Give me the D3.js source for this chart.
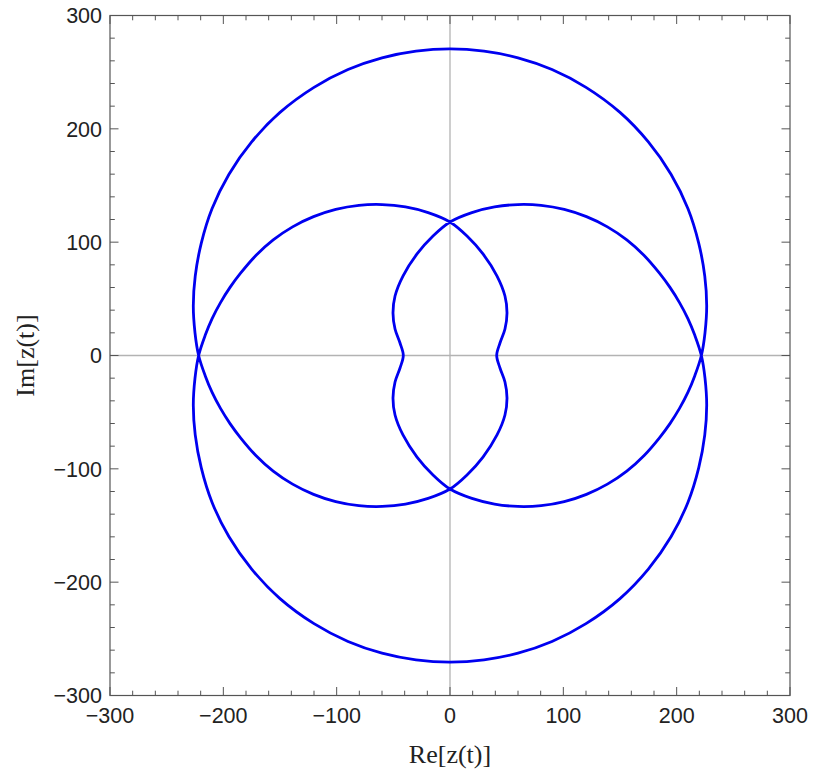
<!DOCTYPE html>
<html>
<head>
<meta charset="utf-8">
<script src="https://cdn.jsdelivr.net/npm/d3@7"></script>
<style>
  body { margin: 0; background: #fff; }
</style>
</head>
<body>
<div id="d3-container"></div>
<script>
/**
 * CONSTANTS AND GLOBALS
 * */
const width = 817,
  height = 770,
  margin = { top: 15.5, bottom: 74.5, left: 110, right: 27 };

// domain of both axes
const domainRe = [-300, 300];
const domainIm = [-300, 300];

// tick values
const majorTicks = [-300, -200, -100, 0, 100, 200, 300];
const minorTicks = d3.range(-300, 301, 20).filter(d => d % 100 !== 0);

// points, in order along the curve [Re, Im]
const curvePoints = [
  // outer arc, upper right
  [0, 270.5], [30, 268.5], [60, 262.6], [90, 252.3], [120, 236.6], [150, 214.5],
  [175, 188.5], [195, 160], [210, 129.5], [219.5, 99], [224.8, 70], [226.5, 44],
  [225, 20], [221.8, 0],
  // lobe, lower right
  [216.1, -17.6], [209.9, -32.6], [202.5, -46.7], [194.1, -60.1], [184.8, -72.6], [171.3, -88.2],
  [156, -102], [138.9, -113.5], [120.4, -122.5], [100.8, -128.9], [80.4, -132.5], [59.8, -133.2],
  [39.3, -131.1], [19.3, -126.1], [0, -117.8],
  // inner, left side
  [-15, -105.4], [-29.1, -89.6], [-41.5, -70.1], [-48.5, -52.5], [-50.3, -37.5], [-48.5, -23.4],
  [-44.1, -11], [-41.2, 0],
  [-44.1, 11], [-48.5, 23.4], [-50.3, 37.5], [-48.5, 52.5], [-41.5, 70.1], [-29.1, 89.6],
  [-15, 105.4], [0, 117.8],
  // lobe, upper right
  [19.3, 126.1], [39.3, 131.1], [59.8, 133.2], [80.4, 132.5], [100.8, 128.9], [120.4, 122.5],
  [138.9, 113.5], [156, 102], [171.3, 88.2], [184.8, 72.6], [194.1, 60.1], [202.5, 46.7],
  [209.9, 32.6], [216.1, 17.6], [221.8, 0],
  // outer arc, lower right
  [225, -20], [226.5, -44], [224.8, -70], [219.5, -99], [210, -129.5], [195, -160],
  [175, -188.5], [150, -214.5], [120, -236.6], [90, -252.3], [60, -262.6], [30, -268.5],
  [0, -270.5],
  // outer arc, lower left
  [-30, -268.5], [-60, -262.6], [-90, -252.3], [-120, -236.6], [-150, -214.5],
  [-175, -188.5], [-195, -160], [-210, -129.5], [-219.5, -99], [-224.8, -70], [-226.5, -44],
  [-225, -20], [-221.8, 0],
  // lobe, upper left
  [-216.1, 17.6], [-209.9, 32.6], [-202.5, 46.7], [-194.1, 60.1], [-184.8, 72.6], [-171.3, 88.2],
  [-156, 102], [-138.9, 113.5], [-120.4, 122.5], [-100.8, 128.9], [-80.4, 132.5], [-59.8, 133.2],
  [-39.3, 131.1], [-19.3, 126.1], [0, 117.8],
  // inner, right side
  [15, 105.4], [29.1, 89.6], [41.5, 70.1], [48.5, 52.5], [50.3, 37.5], [48.5, 23.4],
  [44.1, 11], [41.2, 0],
  [44.1, -11], [48.5, -23.4], [50.3, -37.5], [48.5, -52.5], [41.5, -70.1], [29.1, -89.6],
  [15, -105.4], [0, -117.8],
  // lobe, lower left
  [-19.3, -126.1], [-39.3, -131.1], [-59.8, -133.2], [-80.4, -132.5], [-100.8, -128.9],
  [-120.4, -122.5], [-138.9, -113.5], [-156, -102], [-171.3, -88.2], [-184.8, -72.6],
  [-194.1, -60.1], [-202.5, -46.7], [-209.9, -32.6], [-216.1, -17.6], [-221.8, 0],
  // outer arc, upper left
  [-225, 20], [-226.5, 44], [-224.8, 70], [-219.5, 99], [-210, 129.5], [-195, 160],
  [-175, 188.5], [-150, 214.5], [-120, 236.6], [-90, 252.3], [-60, 262.6], [-30, 268.5]
];

const frameColor = "#555";
const labelColor = "#222";

/**
 * SCALES
 * */
const x = d3.scaleLinear().domain(domainRe).range([margin.left, width - margin.right]);
const y = d3.scaleLinear().domain(domainIm).range([height - margin.bottom, margin.top]);
const fmt = d3.format("d"); // uses the real minus sign

const svg = d3.select("#d3-container")
  .append("svg")
  .attr("width", width)
  .attr("height", height);

// zero lines
svg.append("line")
  .attr("x1", x(0)).attr("x2", x(0))
  .attr("y1", y(300)).attr("y2", y(-300))
  .attr("stroke", "#b3b3b3").attr("stroke-width", 1.3);
svg.append("line")
  .attr("x1", x(-300)).attr("x2", x(300))
  .attr("y1", y(0)).attr("y2", y(0))
  .attr("stroke", "#b3b3b3").attr("stroke-width", 1.3);

// the curve
const line = d3.line()
  .x(d => x(d[0]))
  .y(d => y(d[1]))
  .curve(d3.curveCatmullRomClosed.alpha(0.5));

svg.append("path")
  .datum(curvePoints)
  .attr("d", line)
  .attr("fill", "none")
  .attr("stroke", "#0000f0")
  .attr("stroke-width", 2.8)
  .attr("stroke-linejoin", "round");

// frame + inward ticks on all four sides
const x0 = x(-300), x1 = x(300), y0 = y(-300), y1 = y(300);
const ticks = svg.append("g").attr("stroke", frameColor).attr("stroke-width", 1);
const allTicks = majorTicks.map(v => ({ v, len: 8.5 })).concat(minorTicks.map(v => ({ v, len: 4.8 })));

allTicks.forEach(t => {
  // bottom + top
  ticks.append("line").attr("x1", x(t.v)).attr("x2", x(t.v)).attr("y1", y0).attr("y2", y0 - t.len);
  ticks.append("line").attr("x1", x(t.v)).attr("x2", x(t.v)).attr("y1", y1).attr("y2", y1 + t.len);
  // left + right
  ticks.append("line").attr("x1", x0).attr("x2", x0 + t.len).attr("y1", y(t.v)).attr("y2", y(t.v));
  ticks.append("line").attr("x1", x1).attr("x2", x1 - t.len).attr("y1", y(t.v)).attr("y2", y(t.v));
});

svg.append("rect")
  .attr("x", x0).attr("y", y1)
  .attr("width", x1 - x0).attr("height", y0 - y1)
  .attr("fill", "none")
  .attr("stroke", frameColor)
  .attr("stroke-width", 1.2);

// tick labels
svg.append("g")
  .selectAll("text")
  .data(majorTicks)
  .join("text")
  .attr("x", d => x(d))
  .attr("y", y0 + 27)
  .attr("text-anchor", "middle")
  .attr("font-family", "'Liberation Sans', Arial, sans-serif")
  .attr("font-size", 21.5)
  .attr("fill", labelColor)
  .text(d => fmt(d));

svg.append("g")
  .selectAll("text")
  .data(majorTicks)
  .join("text")
  .attr("x", x0 - 8)
  .attr("y", d => y(d) + 7.7)
  .attr("text-anchor", "end")
  .attr("font-family", "'Liberation Sans', Arial, sans-serif")
  .attr("font-size", 21.5)
  .attr("fill", labelColor)
  .text(d => fmt(d));

// axis titles
svg.append("text")
  .attr("x", x(0))
  .attr("y", 763)
  .attr("text-anchor", "middle")
  .attr("font-family", "'Liberation Serif', 'Times New Roman', serif")
  .attr("font-size", 26)
  .attr("fill", labelColor)
  .text("Re[z(t)]");

svg.append("text")
  .attr("transform", `translate(34,${y(0)}) rotate(-90)`)
  .attr("text-anchor", "middle")
  .attr("font-family", "'Liberation Serif', 'Times New Roman', serif")
  .attr("font-size", 26)
  .attr("fill", labelColor)
  .text("Im[z(t)]");
</script>
</body>
</html>
